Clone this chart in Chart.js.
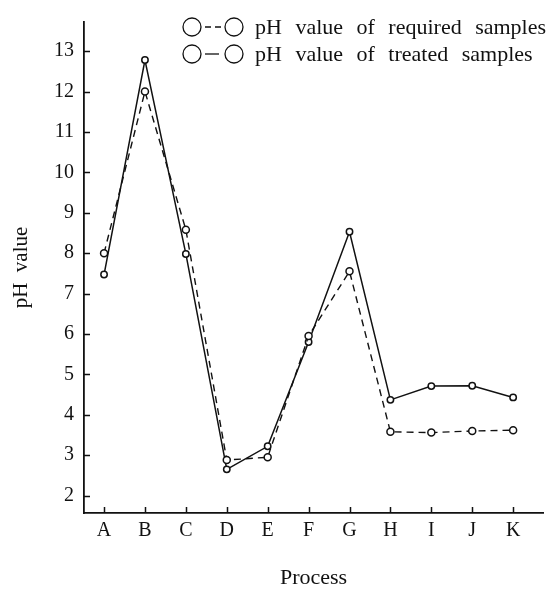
<!DOCTYPE html>
<html>
<head>
<meta charset="utf-8">
<title>pH value by process</title>
<script src="https://cdn.jsdelivr.net/npm/chart.js@4.4.1/dist/chart.umd.min.js"></script>
<style>
  html, body { margin: 0; padding: 0; background: #fff; }
  canvas { display: block; }
</style>
</head>
<body>
<canvas id="phChart" width="556" height="591"></canvas>
<script>
// values
const categories = ["A", "B", "C", "D", "E", "F", "G", "H", "I", "J", "K"];
const requiredPH = [8.0, 12.0, 8.58, 2.88, 2.95, 5.95, 7.55, 3.58, 3.56, 3.6, 3.62];
const treatedPH = [7.47, 12.78, 7.98, 2.65, 3.22, 5.8, 8.53, 4.37, 4.71, 4.72, 4.43];
const yTicks = [2, 3, 4, 5, 6, 7, 8, 9, 10, 11, 12, 13];
const legendLabels = ["pH value of required samples", "pH value of treated samples"];

const serif = '"Liberation Serif", "DejaVu Serif", serif';
const ink = "#111";

// ticks in this figure point into the plot
const innerTicks = {
  id: "innerTicks",
  afterDraw(chart) {
    const { ctx, chartArea, scales } = chart;
    ctx.save();
    ctx.strokeStyle = ink;
    ctx.lineWidth = 1.5;
    ctx.beginPath();
    scales.x.ticks.forEach((t) => {
      const px = Math.round(scales.x.getPixelForValue(t.value)) + 0.5;
      ctx.moveTo(px, chartArea.bottom);
      ctx.lineTo(px, chartArea.bottom - 6);
    });
    scales.y.ticks.forEach((t) => {
      const py = Math.round(scales.y.getPixelForValue(t.value)) + 0.5;
      ctx.moveTo(chartArea.left, py);
      ctx.lineTo(chartArea.left + 6, py);
    });
    ctx.stroke();
    ctx.restore();
  },
};

// "o--o" / "o-o" legend in the top right corner
const markerLegend = {
  id: "markerLegend",
  afterDraw(chart) {
    const ctx = chart.ctx;
    const rows = [
      { y: 27, dash: [6, 4] },
      { y: 54, dash: [] },
    ];
    ctx.save();
    ctx.strokeStyle = ink;
    ctx.fillStyle = ink;
    ctx.lineWidth = 1.3;
    ctx.font = "22px " + serif;
    if ("wordSpacing" in ctx) ctx.wordSpacing = "8px";
    ctx.textBaseline = "middle";
    rows.forEach((row, i) => {
      ctx.setLineDash([]);
      ctx.beginPath();
      ctx.arc(192, row.y, 9, 0, Math.PI * 2);
      ctx.stroke();
      ctx.beginPath();
      ctx.arc(234, row.y, 9, 0, Math.PI * 2);
      ctx.stroke();
      ctx.setLineDash(row.dash);
      ctx.beginPath();
      ctx.moveTo(205, row.y);
      ctx.lineTo(row.dash.length ? 223 : 219, row.y);
      ctx.stroke();
      ctx.setLineDash([]);
      ctx.fillText(legendLabels[i], 255, row.y + 1);
    });
    ctx.restore();
  },
};

const ctx = document.getElementById("phChart");
const phChart = new Chart(ctx, {
  type: "line",
  data: {
    datasets: [
      {
        label: legendLabels[0],
        data: requiredPH.map((v, i) => ({ x: i, y: v })),
        borderColor: ink,
        borderWidth: 1.4,
        borderDash: [7, 5],
        pointRadius: 3.5,
        pointBorderWidth: 1.5,
        pointBackgroundColor: "#fff",
        pointBorderColor: ink,
        tension: 0,
      },
      {
        label: legendLabels[1],
        data: treatedPH.map((v, i) => ({ x: i, y: v })),
        borderColor: ink,
        borderWidth: 1.5,
        pointRadius: 3.2,
        pointBorderWidth: 1.5,
        pointBackgroundColor: "#fff",
        pointBorderColor: ink,
        tension: 0,
      },
    ],
  },
  options: {
    responsive: false,
    animation: false,
    events: [],
    layout: { padding: { top: 10, right: 13, left: 0, bottom: 0 } },
    plugins: {
      legend: { display: false },
      tooltip: { enabled: false },
    },
    scales: {
      x: {
        type: "linear",
        min: -0.49,
        max: 10.73,
        afterBuildTicks: (scale) => {
          scale.ticks = categories.map((c, i) => ({ value: i }));
        },
        afterFit: (scale) => {
          scale.height = 78;
        },
        grid: { display: false, drawTicks: false },
        border: { display: true, color: ink, width: 1.8 },
        ticks: {
          autoSkip: false,
          maxRotation: 0,
          padding: 6,
          color: ink,
          font: { family: serif, size: 20 },
          callback: (value) => categories[value],
        },
        title: {
          display: true,
          text: "Process",
          color: ink,
          font: { family: serif, size: 22 },
          padding: { top: 0, bottom: 0 },
        },
      },
      y: {
        min: 1.57,
        max: 13.72,
        afterBuildTicks: (scale) => {
          scale.ticks = yTicks.map((v) => ({ value: v }));
        },
        afterFit: (scale) => {
          scale.width = 84;
        },
        grid: { display: false, drawTicks: false },
        border: { display: true, color: ink, width: 1.8 },
        ticks: {
          padding: 10,
          color: ink,
          font: { family: serif, size: 20 },
        },
        title: {
          display: true,
          text: "pH  value",
          color: ink,
          font: { family: serif, size: 21 },
          padding: { top: 9, bottom: 0 },
        },
      },
    },
  },
  plugins: [innerTicks, markerLegend],
});
</script>
</body>
</html>
